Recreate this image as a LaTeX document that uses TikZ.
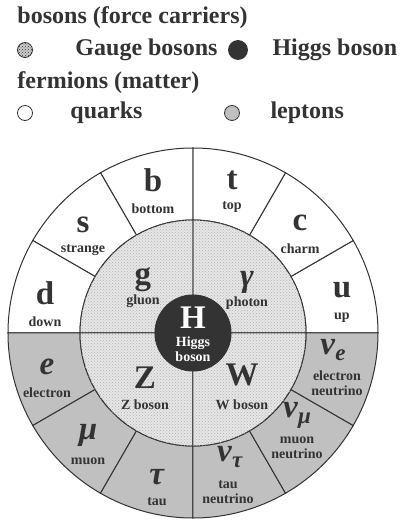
\documentclass[tikz,border=0pt]{standalone}
\usepackage{fontspec}
\setmainfont{Liberation Serif}
\usetikzlibrary{patterns}
\definecolor{ink}{HTML}{333333}
\definecolor{leptongray}{HTML}{C0C0C0}
\definecolor{gaugegray}{HTML}{E6E6E6}
\newcommand{\subidx}[1]{\raisebox{-0.4ex}{\fontsize{23}{23}\selectfont\textit{#1}}}

\begin{document}
\begin{tikzpicture}
[
    x=1pt, y=1pt,
    color=ink, line width=1pt,
    quark/.style={fill=white},
    lepton/.style={fill=leptongray},
    gauge/.style={fill=gaugegray, postaction={pattern=crosshatch dots, pattern color=gray!60}},
    higgs/.style={fill=ink},
    sym/.style={font=\bfseries\fontsize{33}{33}\selectfont, inner sep=0pt},
    partname/.style={font=\bfseries\fontsize{14}{15}\selectfont, align=center, inner sep=0pt},
    legend/.style={font=\bfseries\fontsize{24}{26}\selectfont, anchor=west, inner sep=0pt},
    dot/.style={circle, draw, line width=0.8pt, minimum size=15pt, inner sep=0pt}
]
    \useasboundingbox (-193,-189) rectangle (216,333);

    % legend
    \node [legend] (bosons) at (-176,315) {bosons (force carriers)};
    \node [dot, fill=gray!40, postaction={pattern=crosshatch dots, pattern color=ink}] (gaugeicon) at (-168,283) {};
    \node [legend] (gaugetext) at (-118,283) {Gauge bosons};
    \node [dot, fill=ink, minimum size=19pt] (higgsicon) at (45,283) {};
    \node [legend] (higgstext) at (79,283) {Higgs boson};
    \node [legend] (fermions) at (-176,250) {fermions (matter)};
    \node [dot, fill=white] (quarkicon) at (-168,220) {};
    \node [legend] (quarktext) at (-123,220) {quarks};
    \node [dot, fill=leptongray] (leptonicon) at (39,220) {};
    \node [legend] (leptontext) at (77,220) {leptons};

    % outer ring
    \foreach \a in {0,30,...,150}
        \draw [quark] (\a:113pt) -- (\a:185pt) arc [start angle=\a, delta angle=30, radius=185pt]
            -- ({\a+30}:113pt) arc [start angle=\a+30, delta angle=-30, radius=113pt] -- cycle;
    \foreach \a in {180,210,...,330}
        \draw [lepton] (\a:113pt) -- (\a:185pt) arc [start angle=\a, delta angle=30, radius=185pt]
            -- ({\a+30}:113pt) arc [start angle=\a+30, delta angle=-30, radius=113pt] -- cycle;

    % gauge bosons
    \foreach \a in {0,90,180,270}
        \draw [gauge] (0,0) -- (\a:113pt) arc [start angle=\a, delta angle=90, radius=113pt] -- cycle;
    \draw [higgs] (0,0) circle [radius=38pt];

    % quarks
    \node [sym] (b) at (-40,153) {b};
    \node [partname] (bottom) at (-40,124) {bottom};
    \node [sym] (s) at (-110,108) {s};
    \node [partname] (strange) at (-110,83) {strange};
    \node [sym] (d) at (-148,40) {d};
    \node [partname] (down) at (-148,11) {down};
    \node [sym] (t) at (39,153) {t};
    \node [partname] (top) at (39,126) {top};
    \node [sym] (c) at (107,110) {c};
    \node [partname] (charm) at (107,84) {charm};
    \node [sym] (u) at (149,43) {u};
    \node [partname] (up) at (149,15) {up};

    % bosons
    \node [sym] (g) at (-50,53) {g};
    \node [partname] (gluon) at (-50,32) {gluon};
    \node [sym] (gamma) at (54,51) {\textit{γ}};
    \node [partname] (photon) at (54,30) {photon};
    \node [sym] (Z) at (-48,-45) {Z};
    \node [partname] (zboson) at (-48,-72) {Z boson};
    \node [sym] (W) at (49,-42) {W};
    \node [partname] (wboson) at (49,-72) {W boson};
    \node [sym, text=white] (H) at (0,15) {H};
    \node [partname, text=white] (higgsname) at (0,-16) {Higgs\\boson};

    % leptons
    \node [sym] (e) at (-146,-34) {\textit{e}};
    \node [partname] (electron) at (-146,-60) {electron};
    \node [sym] (mu) at (-105,-102) {\textit{μ}};
    \node [partname] (muon) at (-105,-128) {muon};
    \node [sym] (tau) at (-36,-144) {\textit{τ}};
    \node [partname] (tauname) at (-36,-169) {tau};
    \node [sym] (nue) at (140,-17) {\textit{ν}\subidx{e}};
    \node [partname] (nuename) at (144,-50) {electron\\neutrino};
    \node [sym] (numu) at (104,-82) {\textit{ν}\subidx{μ}};
    \node [partname] (numuname) at (104,-115) {muon\\neutrino};
    \node [sym] (nutau) at (37,-124) {\textit{ν}\subidx{τ}};
    \node [partname] (nutauname) at (35,-159) {tau\\neutrino};
\end{tikzpicture}
\end{document}
